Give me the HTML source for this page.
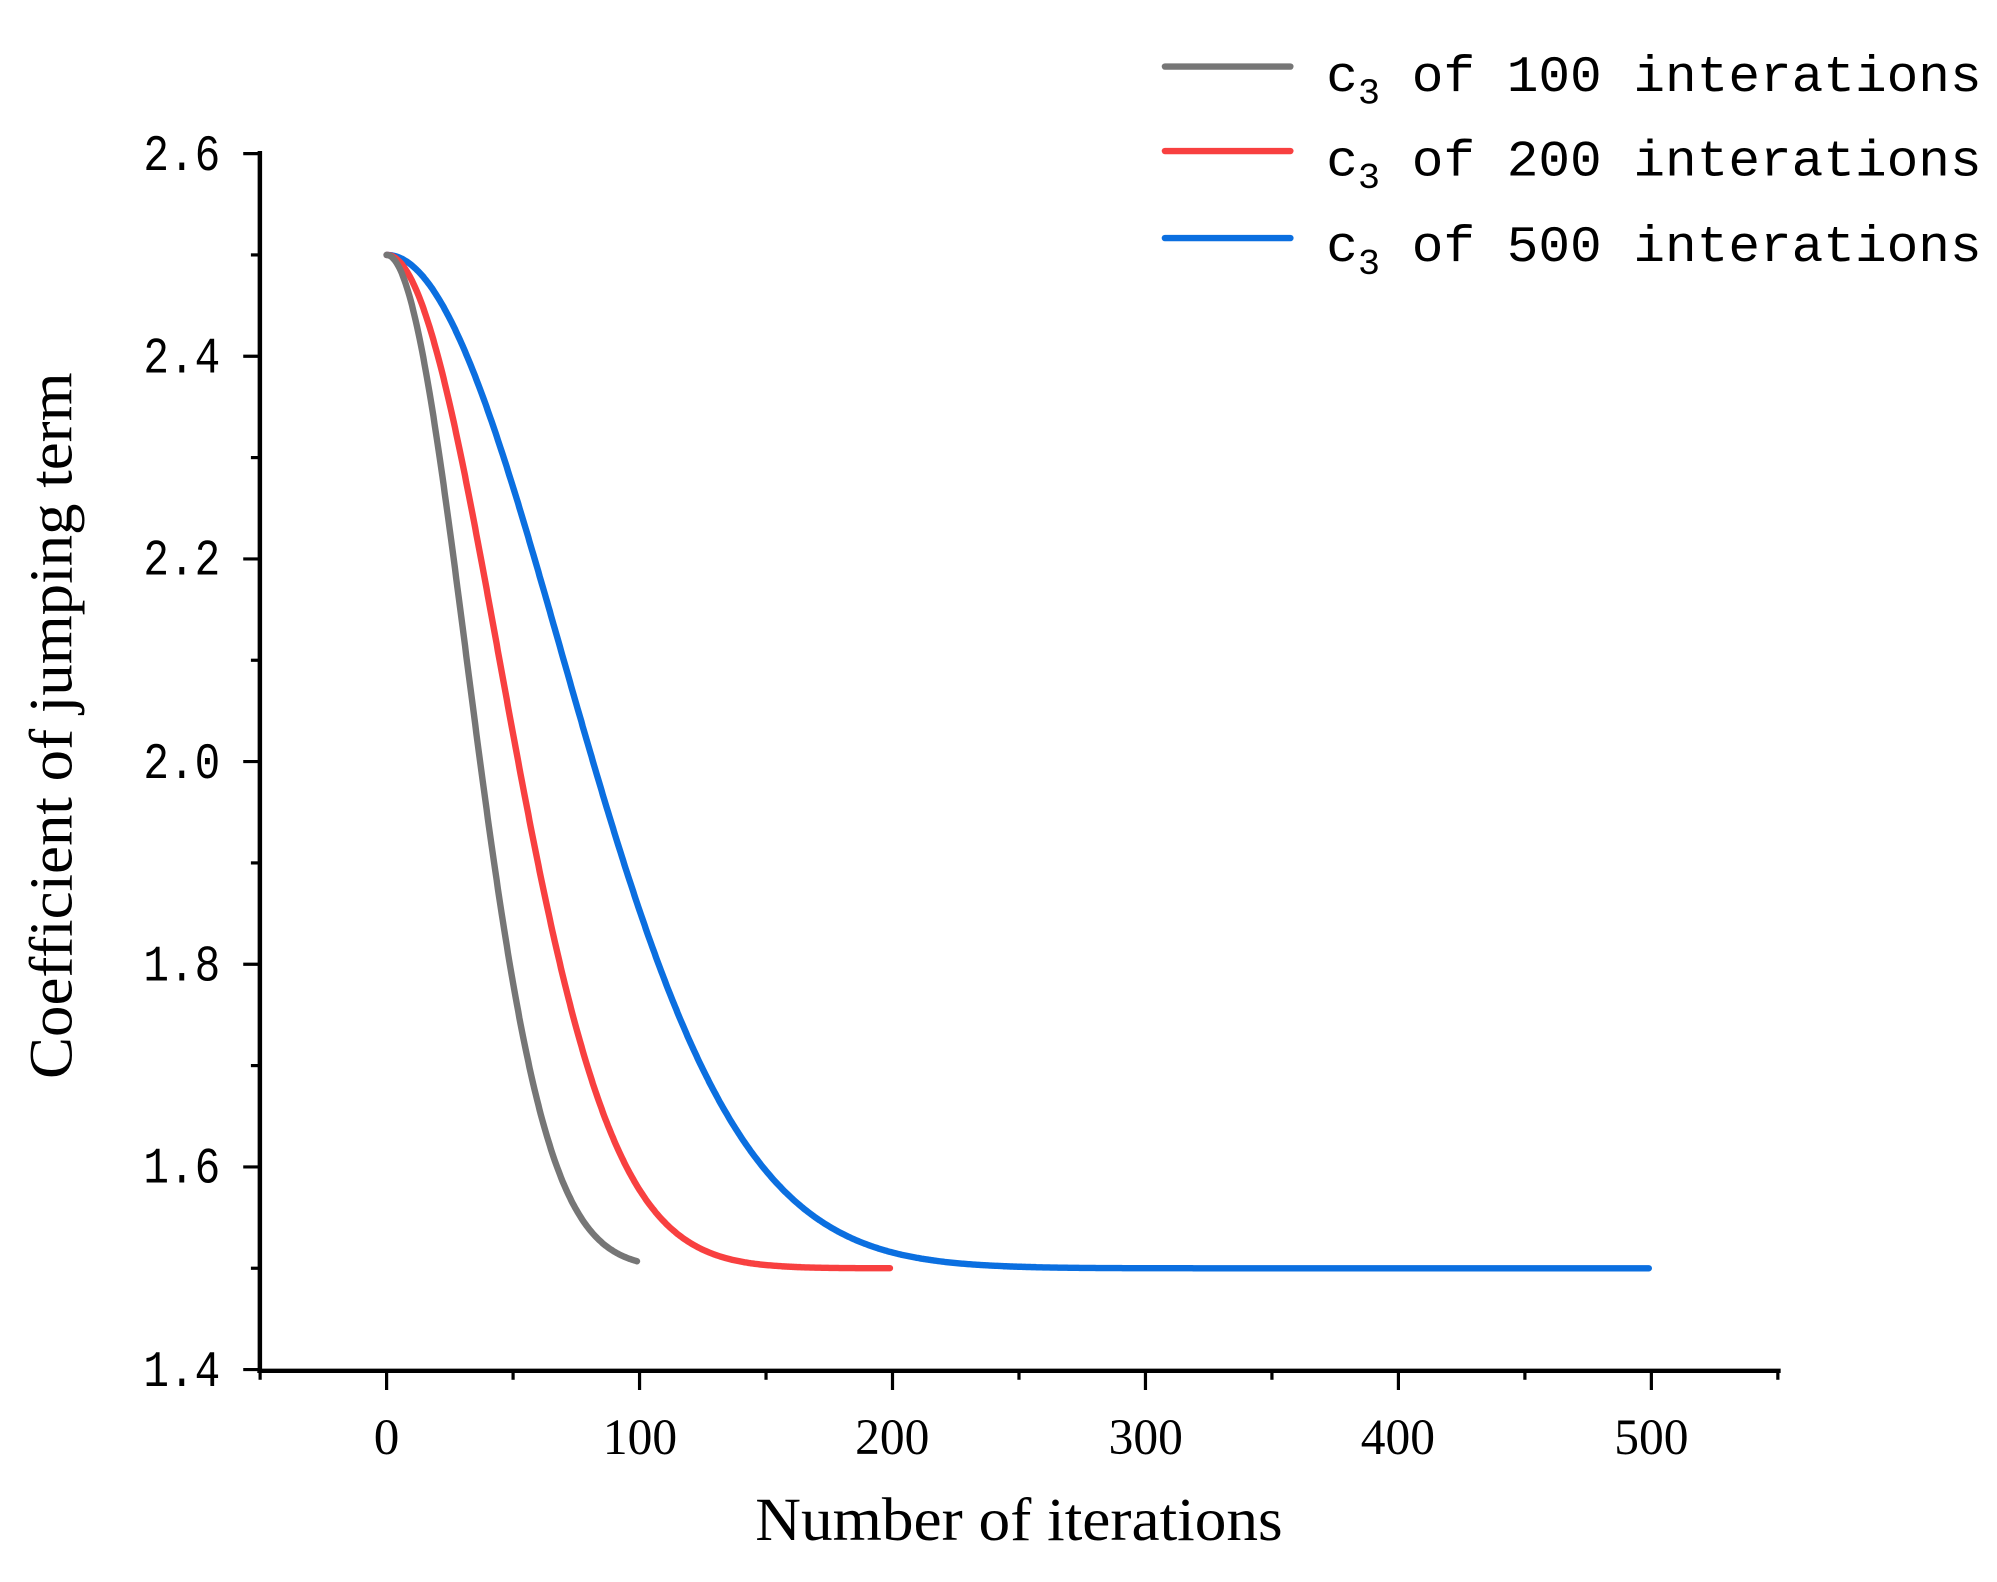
<!DOCTYPE html>
<html><head><meta charset="utf-8"><style>
html,body{margin:0;padding:0;background:#fff;}
svg{display:block;}
text{font-family:"Liberation Serif",serif;fill:#000;}
.m{font-family:"Liberation Mono",monospace;}
</style></head><body>
<svg id="s" width="1997" height="1582" viewBox="0 0 1560 1236" preserveAspectRatio="none" xmlns="http://www.w3.org/2000/svg">
<rect width="1560" height="1236" fill="#fff"/>
<g stroke="#000" stroke-width="3.5" fill="none">
<line x1="203" y1="118" x2="203" y2="1071"/>
<line x1="201" y1="1071" x2="1391" y2="1071"/>
</g>
<g id="ticks" stroke="#000" stroke-width="2.5"></g>
<g font-size="40" text-anchor="end" class="m">
<text class="m" x="172" y="133" textLength="60" lengthAdjust="spacingAndGlyphs">2.6</text>
<text class="m" x="172" y="291" textLength="60" lengthAdjust="spacingAndGlyphs">2.4</text>
<text class="m" x="172" y="449" textLength="60" lengthAdjust="spacingAndGlyphs">2.2</text>
<text class="m" x="172" y="608" textLength="60" lengthAdjust="spacingAndGlyphs">2.0</text>
<text class="m" x="172" y="766" textLength="60" lengthAdjust="spacingAndGlyphs">1.8</text>
<text class="m" x="172" y="924" textLength="60" lengthAdjust="spacingAndGlyphs">1.6</text>
<text class="m" x="172" y="1083" textLength="60" lengthAdjust="spacingAndGlyphs">1.4</text>
</g>
<g font-size="40" text-anchor="middle">
<text x="302" y="1136">0</text>
<text x="500" y="1136" textLength="58" lengthAdjust="spacingAndGlyphs">100</text>
<text x="697" y="1136" textLength="58" lengthAdjust="spacingAndGlyphs">200</text>
<text x="895" y="1136" textLength="58" lengthAdjust="spacingAndGlyphs">300</text>
<text x="1092" y="1136" textLength="58" lengthAdjust="spacingAndGlyphs">400</text>
<text x="1290" y="1136" textLength="58" lengthAdjust="spacingAndGlyphs">500</text>
</g>
<text x="796" y="1203" font-size="48" text-anchor="middle" textLength="412" lengthAdjust="spacingAndGlyphs">Number of iterations</text>
<text transform="translate(56,567) rotate(-90)" font-size="48" text-anchor="middle" textLength="552" lengthAdjust="spacingAndGlyphs">Coefficient of jumping term</text>
<g id="curves" fill="none" stroke-width="5" stroke-linecap="round"></g>
<g stroke-width="5" stroke-linecap="round">
<line x1="910" y1="52" x2="1008" y2="52" stroke="#767676"/>
<line x1="910" y1="118" x2="1008" y2="118" stroke="#f84040"/>
<line x1="910" y1="186" x2="1008" y2="186" stroke="#0b6fe0"/>
</g>
<g font-size="40">
<text class="m" x="1036" y="71" textLength="512" lengthAdjust="spacingAndGlyphs">c<tspan font-size="28" dy="10">3</tspan><tspan dy="-10"> of 100 interations</tspan></text>
<text class="m" x="1036" y="137" textLength="512" lengthAdjust="spacingAndGlyphs">c<tspan font-size="28" dy="10">3</tspan><tspan dy="-10"> of 200 interations</tspan></text>
<text class="m" x="1036" y="204" textLength="512" lengthAdjust="spacingAndGlyphs">c<tspan font-size="28" dy="10">3</tspan><tspan dy="-10"> of 500 interations</tspan></text>
</g>
</svg>
<script>
var NS="http://www.w3.org/2000/svg";
var tk=document.getElementById("ticks");
function ln(x1,y1,x2,y2){var l=document.createElementNS(NS,"line");l.setAttribute("x1",x1);l.setAttribute("y1",y1);l.setAttribute("x2",x2);l.setAttribute("y2",y2);tk.appendChild(l);}
for(var i=0;i<=12;i++){var y=120+i*79.17;ln(203,y,i%2?196:190,y);}
for(var t=-50;t<=550;t+=50){var x=302+t*1.976;ln(x,1071,x,(t%100==0)?1086:1078);}
var cv=document.getElementById("curves");
function curve(T,s,col){var d="";for(var t=1;t<=T;t+=0.5){var v=1.5+Math.exp(-Math.pow((t-1)/s,2));var x=302+(t-1)*1.976,y=120+(2.6-v)*791.7;d+=(d?"L":"M")+x.toFixed(1)+","+y.toFixed(1);}
var p=document.createElementNS(NS,"path");p.setAttribute("d",d);p.setAttribute("stroke",col);cv.appendChild(p);}
curve(500,98,"#0b6fe0");curve(200,62.5,"#f84040");curve(100,44.4,"#767676");
</script>
</body></html>
